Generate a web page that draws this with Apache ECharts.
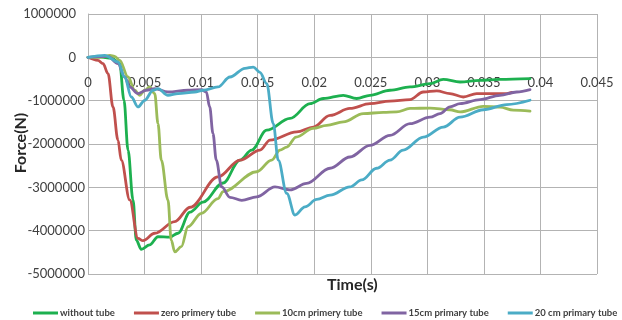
<!DOCTYPE html>
<html>
<head>
<meta charset="utf-8">
<script src="https://cdn.jsdelivr.net/npm/echarts@6/dist/echarts.min.js"></script>
<style>html,body{margin:0;padding:0;background:#fff}#c{width:622px;height:320px}</style>
</head>
<body>
<div id="c"></div>
<script>
var seriesNames = ['without tube', 'zero primery tube', '10cm primery tube', '15cm primary tube', '20 cm primary tube'];
var xTicks = [0, 0.005, 0.01, 0.015, 0.02, 0.025, 0.03, 0.035, 0.04, 0.045];
var yTicks = [1000000, 0, -1000000, -2000000, -3000000, -4000000, -5000000];

var withoutTube = [
  [0,0],[0.001,10000],[0.0021,-20000],[0.0028,-140000],[0.00318,-990000],[0.00354,-2140000],
  [0.00398,-3290000],[0.00427,-4220000],[0.00471,-4430000],[0.00545,-4330000],[0.00619,-4140000],
  [0.00722,-4150000],[0.00796,-4060000],[0.00902,-3570000],[0.01017,-3340000],[0.01194,-2900000],
  [0.01344,-2370000],[0.01447,-2140000],[0.0158,-1680000],[0.01786,-1410000],[0.01963,-1070000],
  [0.0208,-950000],[0.02257,-876000],[0.02375,-950000],[0.02493,-876000],[0.0267,-760000],
  [0.02847,-684000],[0.03024,-606000],[0.03141,-507000],[0.03289,-569000],[0.03466,-530000],
  [0.03642,-507000],[0.03908,-490000]
];
var zeroPrimary = [
  [0,0],[0.00088,-69000],[0.00133,-145000],[0.00177,-376000],[0.00221,-1145000],[0.00265,-1910000],
  [0.00294,-2370000],[0.00369,-3290000],[0.00442,-4180000],[0.00486,-4230000],[0.0059,-4060000],
  [0.00767,-3790000],[0.00902,-3460000],[0.01149,-2760000],[0.01344,-2370000],[0.01521,-2140000],
  [0.01609,-1910000],[0.01845,-1720000],[0.01992,-1610000],[0.0214,-1340000],[0.02316,-1180000],
  [0.02493,-1070000],[0.0267,-1010000],[0.02847,-975000],[0.02964,-800000],[0.03083,-776000],
  [0.032,-836000],[0.03318,-915000],[0.03436,-836000],[0.03583,-836000],[0.03702,-836000],
  [0.03748,-810000]
];
var primary10cm = [
  [0,0],[0.00106,0],[0.00195,46000],[0.00236,23000],[0.0028,-69000],[0.00354,-454000],
  [0.00413,-760000],[0.00457,-876000],[0.00501,-760000],[0.00545,-684000],[0.0059,-836000],
  [0.00619,-1530000],[0.00648,-2370000],[0.00707,-3290000],[0.00736,-4220000],[0.00767,-4490000],
  [0.00825,-4370000],[0.00884,-3910000],[0.01002,-3600000],[0.01149,-3260000],[0.01194,-3100000],
  [0.01491,-2640000],[0.01624,-2370000],[0.01697,-2140000],[0.01757,-2070000],[0.0184,-1840000],
  [0.0199,-1640000],[0.0211,-1570000],[0.02257,-1490000],[0.02434,-1300000],[0.02611,-1270000],
  [0.02729,-1260000],[0.02847,-1180000],[0.03024,-1170000],[0.032,-1210000],[0.03289,-1260000],
  [0.03495,-1130000],[0.03642,-1150000],[0.0376,-1220000],[0.03908,-1240000]
];
var primary15cm = [
  [0,0],[0.00177,23000],[0.00265,-145000],[0.00324,-454000],[0.00369,-684000],[0.00442,-836000],
  [0.00515,-760000],[0.0059,-721000],[0.00707,-800000],[0.00884,-760000],[0.01002,-744000],
  [0.01046,-800000],[0.01076,-1145000],[0.01105,-1760000],[0.01134,-2370000],[0.01182,-2990000],
  [0.01255,-3230000],[0.01359,-3300000],[0.01491,-3220000],[0.01653,-2990000],[0.01786,-3060000],
  [0.01933,-2910000],[0.0214,-2560000],[0.02316,-2300000],[0.02493,-2030000],[0.0267,-1800000],
  [0.02847,-1530000],[0.03024,-1380000],[0.03112,-1300000],[0.032,-1145000],[0.03289,-1070000],
  [0.03466,-975000],[0.03642,-876000],[0.0379,-800000],[0.03908,-744000]
];
var primary20cm = [
  [0,0],[0.00148,46000],[0.00265,-108000],[0.00324,-454000],[0.00383,-915000],[0.00442,-1145000],
  [0.00501,-991000],[0.00575,-760000],[0.00619,-721000],[0.00707,-876000],[0.00796,-836000],
  [0.00943,-800000],[0.01017,-760000],[0.01149,-684000],[0.01255,-454000],[0.01388,-253000],
  [0.01461,-224000],[0.0152,-346000],[0.0158,-606000],[0.01638,-1530000],[0.01682,-2370000],
  [0.01757,-3140000],[0.0183,-3640000],[0.01918,-3450000],[0.02022,-3280000],[0.0214,-3180000],
  [0.02316,-2990000],[0.0242,-2830000],[0.02552,-2560000],[0.0267,-2370000],[0.02787,-2140000],
  [0.02964,-1840000],[0.03141,-1610000],[0.03289,-1380000],[0.03495,-1210000],[0.03702,-1090000],
  [0.03908,-990000]
];

var seriesData = [withoutTube, zeroPrimary, primary10cm, primary15cm, primary20cm];
var colors = ['#1db04f', '#c0504d', '#9bbb59', '#8064a2', '#4bacc6'];
var FONT = 'Lato, "Liberation Sans", sans-serif';

var chart = echarts.init(document.getElementById('c'), null, {renderer: 'canvas'});
chart.setOption({
  animation: false,
  color: colors,
  grid: {left: 88, right: 25, top: 14, bottom: 46, containLabel: false, outerBoundsMode: 'none'},
  legend: {
    top: 303, left: 28, width: 594,
    itemWidth: 25, itemHeight: 3, itemGap: 19, icon: 'rect',
    textStyle: {fontFamily: FONT, fontSize: 9.5, fontWeight: 'bold', color: '#404040', padding: [0, 0, 0, -3]},
    data: seriesNames
  },
  graphic: [{
    type: 'text', left: 327, top: 277,
    style: {text: 'Time(s)', font: 'bold 16px ' + FONT, fill: '#262626'}
  }, {
    type: 'text', x: 21, y: 143, rotation: Math.PI / 2,
    style: {text: 'Force(N)', font: 'bold 16px ' + FONT, fill: '#262626', align: 'center', verticalAlign: 'middle'}
  }],
  xAxis: {
    type: 'value', min: 0, max: 0.045, interval: 0.005,
    position: 'bottom', offset: -217,
    axisLine: {onZero: false, lineStyle: {color: '#b3b3b3'}},
    axisTick: {show: false},
    splitLine: {show: true, lineStyle: {color: '#b3b3b3'}},
    axisLabel: {
      margin: 19, fontFamily: FONT, fontSize: 13, color: '#404040',
      formatter: function (v) { return String(+v.toFixed(3)); }
    }
  },
  yAxis: {
    type: 'value', min: -5000000, max: 1000000, interval: 1000000,
    axisLine: {show: true, lineStyle: {color: '#b3b3b3'}},
    axisTick: {show: false},
    splitLine: {show: true, lineStyle: {color: '#b3b3b3'}},
    axisLabel: {
      margin: 3, fontFamily: FONT, fontSize: 13, color: '#404040',
      formatter: function (v) { return v >= 0 ? '{p|' + v + '}' : String(v); },
      rich: {p: {fontFamily: FONT, fontSize: 13, color: '#404040', padding: [0, 9, 0, 0]}}
    }
  },
  series: seriesNames.map(function (n, i) {
    return {
      name: n, type: 'line', data: seriesData[i],
      showSymbol: false, smooth: 0.35, smoothMonotone: 'x',
      lineStyle: {width: 2.8, color: colors[i], cap: 'round', join: 'round'}
    };
  })
});
</script>
</body>
</html>
